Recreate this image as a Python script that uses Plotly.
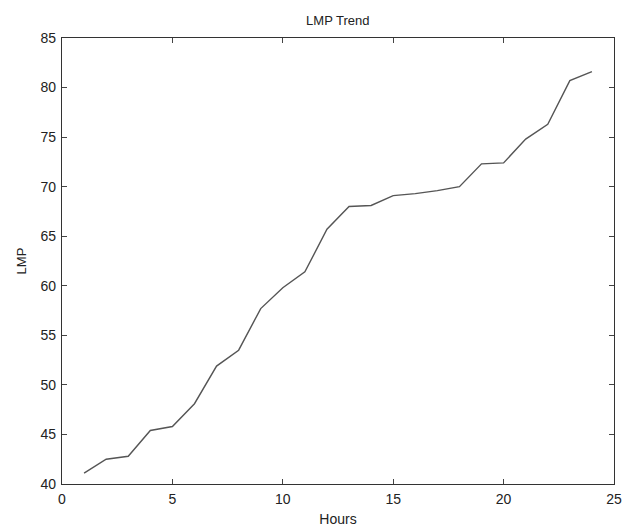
import plotly.graph_objects as go

hours = list(range(1, 25))
lmp = [41.1, 42.5, 42.8, 45.4, 45.8, 48.1, 51.9, 53.5, 57.7, 59.8, 61.4,
       65.7, 68.0, 68.1, 69.1, 69.3, 69.6, 70.0, 72.3, 72.4, 74.8, 76.3,
       80.7, 81.6]

title_text = "LMP Trend"
x_title = "Hours"
y_title = "LMP"
x_ticks = [0, 5, 10, 15, 20, 25]
y_ticks = [40, 45, 50, 55, 60, 65, 70, 75, 80, 85]

FONT = "Liberation Sans, Arial, sans-serif"

fig = go.Figure()
fig.add_trace(go.Scatter(x=hours, y=lmp, mode="lines",
                         line=dict(color="#555555", width=1.4),
                         showlegend=False))

axis_common = dict(showline=True, linecolor="#333333", linewidth=1.2,
                   mirror="ticks", ticks="inside", ticklen=5, tickwidth=1,
                   tickcolor="#444444", showgrid=False, zeroline=False,
                   automargin=False,
                   tickfont=dict(family=FONT, size=14, color="#222222"))

fig.update_layout(
    width=624, height=528,
    margin=dict(l=62, r=10, t=38, b=44),
    paper_bgcolor="white", plot_bgcolor="white",
    title=dict(text=title_text, x=0.5413, xanchor="center", y=0.962, yanchor="middle",
               font=dict(family=FONT, size=13, color="#222222")),
    xaxis=dict(range=[0, 25], tickvals=x_ticks, ticklabelstandoff=2,
               title=dict(text=x_title, standoff=8,
                          font=dict(family=FONT, size=14, color="#222222")),
               **axis_common),
    yaxis=dict(range=[40, 85], tickvals=y_ticks, ticklabelstandoff=2,
               title=dict(text=y_title, standoff=10,
                          font=dict(family=FONT, size=13, color="#222222")),
               **axis_common),
)

fig.write_html("out.html")
